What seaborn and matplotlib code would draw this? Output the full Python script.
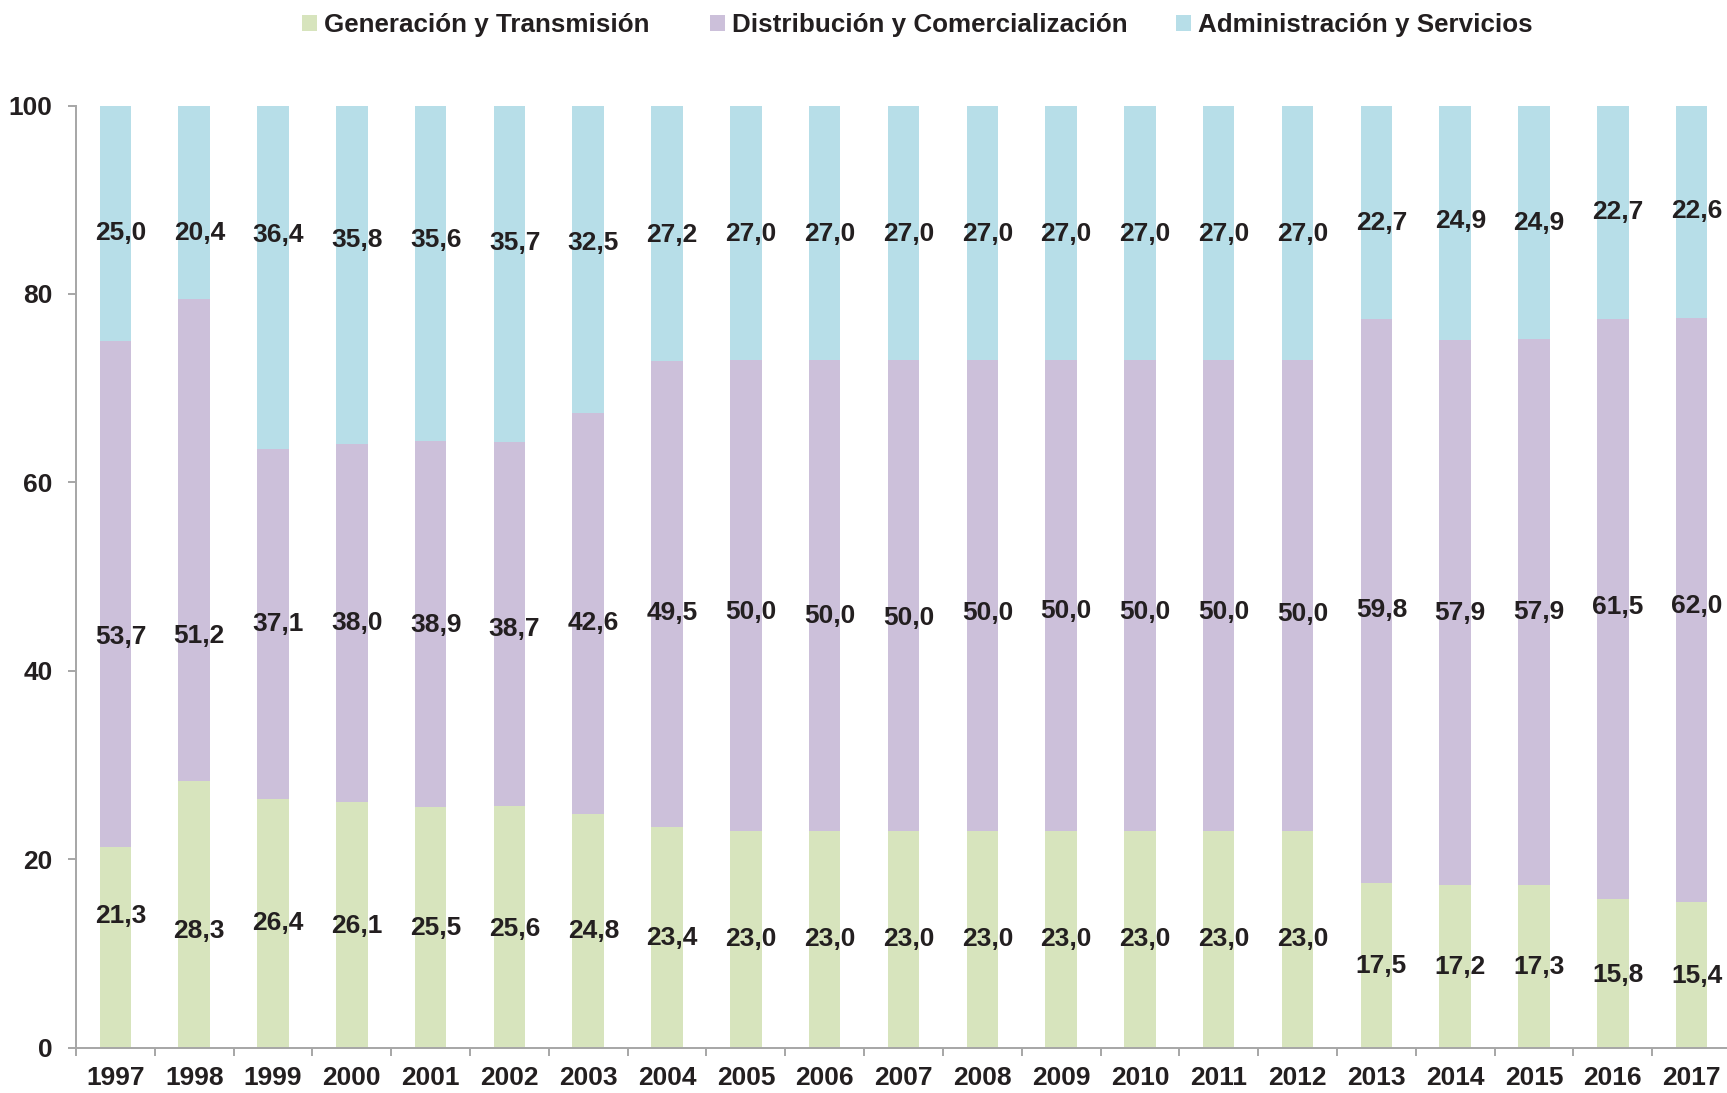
import matplotlib
matplotlib.use("Agg")
import matplotlib.pyplot as plt
from matplotlib.patches import Patch
import numpy as np
import pandas as pd
import seaborn as sns

# Shares (%) by activity, 1997-2017
years = [str(y) for y in range(1997, 2018)]
generacion = [21.3, 28.3, 26.4, 26.1, 25.5, 25.6, 24.8, 23.4, 23.0, 23.0, 23.0,
              23.0, 23.0, 23.0, 23.0, 23.0, 17.5, 17.2, 17.3, 15.8, 15.4]
distribucion = [53.7, 51.2, 37.1, 38.0, 38.9, 38.7, 42.6, 49.5, 50.0, 50.0, 50.0,
                50.0, 50.0, 50.0, 50.0, 50.0, 59.8, 57.9, 57.9, 61.5, 62.0]
administracion = [25.0, 20.4, 36.4, 35.8, 35.6, 35.7, 32.5, 27.2, 27.0, 27.0, 27.0,
                  27.0, 27.0, 27.0, 27.0, 27.0, 22.7, 24.9, 24.9, 22.7, 22.6]
series_names = ["Generación y Transmisión", "Distribución y Comercialización",
                "Administración y Servicios"]
y_ticks = [0, 20, 40, 60, 80, 100]

# Heights at which each value label sits (layout)
label_y_gen = [14.0, 12.4, 13.2, 12.9, 12.7, 12.6, 12.4, 11.6, 11.5, 11.5, 11.5,
               11.5, 11.5, 11.5, 11.5, 11.5, 8.7, 8.5, 8.5, 7.7, 7.6]
label_y_dis = [43.6, 43.7, 45.0, 45.1, 44.8, 44.4, 45.1, 46.1, 46.2, 45.8, 45.6,
               46.1, 46.3, 46.2, 46.2, 46.0, 46.4, 46.1, 46.2, 46.8, 46.9]
label_y_adm = [86.5, 86.5, 86.2, 85.7, 85.7, 85.4, 85.4, 86.3, 86.4, 86.4, 86.4,
               86.4, 86.4, 86.4, 86.4, 86.4, 87.5, 87.7, 87.5, 88.7, 88.8]

# Left edge (figure pixels) of each legend entry
legend_x_px = [302, 710, 1176]

colors = ["#D7E4BD", "#CCC0DA", "#B7DEE8"]
text_color = "#231F20"
axis_color = "#A6A6A6"

sns.set_style("white")
plt.rcParams["font.family"] = ["Liberation Sans", "DejaVu Sans"]
plt.rcParams["font.weight"] = "bold"

df = pd.DataFrame({"year": years, "gen": generacion, "dis": distribucion,
                   "adm": administracion})
df["gen_dis"] = df["gen"] + df["dis"]
df["total"] = df["gen_dis"] + df["adm"]

fig = plt.figure(figsize=(17.27, 10.93), dpi=100)
ax = fig.add_axes([76 / 1727, 45.5 / 1093, 1655 / 1727, 942 / 1093])

# Stacked bars drawn as overlapping cumulative layers
for col, color in zip(["total", "gen_dis", "gen"], colors[::-1]):
    sns.barplot(data=df, x="year", y=col, color=color, width=0.4,
                errorbar=None, saturation=1, linewidth=0, ax=ax, zorder=2)

fs = 19
for i in range(len(years)):
    for vals, ys in ((generacion, label_y_gen), (distribucion, label_y_dis),
                     (administracion, label_y_adm)):
        ax.text(i + 0.065, ys[i], f"{vals[i]:.1f}".replace(".", ","),
                ha="center", va="center", fontsize=fs, fontweight="bold",
                color=text_color, zorder=5)

ax.set_ylim(0, 100)
ax.set_xlim(-0.5, len(years) - 0.5)
ax.set_yticks(y_ticks)
ax.set_yticklabels([str(t) for t in y_ticks])
ax.set_xlabel("")
ax.set_ylabel("")

for side in ("top", "right"):
    ax.spines[side].set_visible(False)
for side in ("left", "bottom"):
    ax.spines[side].set_color(axis_color)
    ax.spines[side].set_linewidth(1.4)
    ax.spines[side].set_zorder(3)

ax.tick_params(axis="y", which="major", length=6, width=1.4, color=axis_color,
               pad=11, labelsize=fs, labelcolor=text_color, left=True)
ax.set_xticks(np.arange(-0.5, len(years)), minor=True)
ax.tick_params(axis="x", which="minor", length=5.5, width=1.4, color=axis_color,
               bottom=True)
ax.tick_params(axis="x", which="major", length=0, pad=13, labelsize=fs,
               labelcolor=text_color)
for lab in ax.get_xticklabels() + ax.get_yticklabels():
    lab.set_fontweight("bold")

# One legend entry per series, placed along the top
for c, n, xpx in zip(colors, series_names, legend_x_px):
    leg = fig.legend(handles=[Patch(facecolor=c, edgecolor="none", label=n)],
                     loc="center left", bbox_to_anchor=(xpx / 1727, 1 - 25 / 1093),
                     frameon=False, prop={"size": 18.7, "weight": "bold"},
                     labelcolor=text_color, handlelength=0.56, handleheight=0.56,
                     handletextpad=0.28, borderpad=0, borderaxespad=0)

fig.savefig("out.png", dpi=100, facecolor="white")
